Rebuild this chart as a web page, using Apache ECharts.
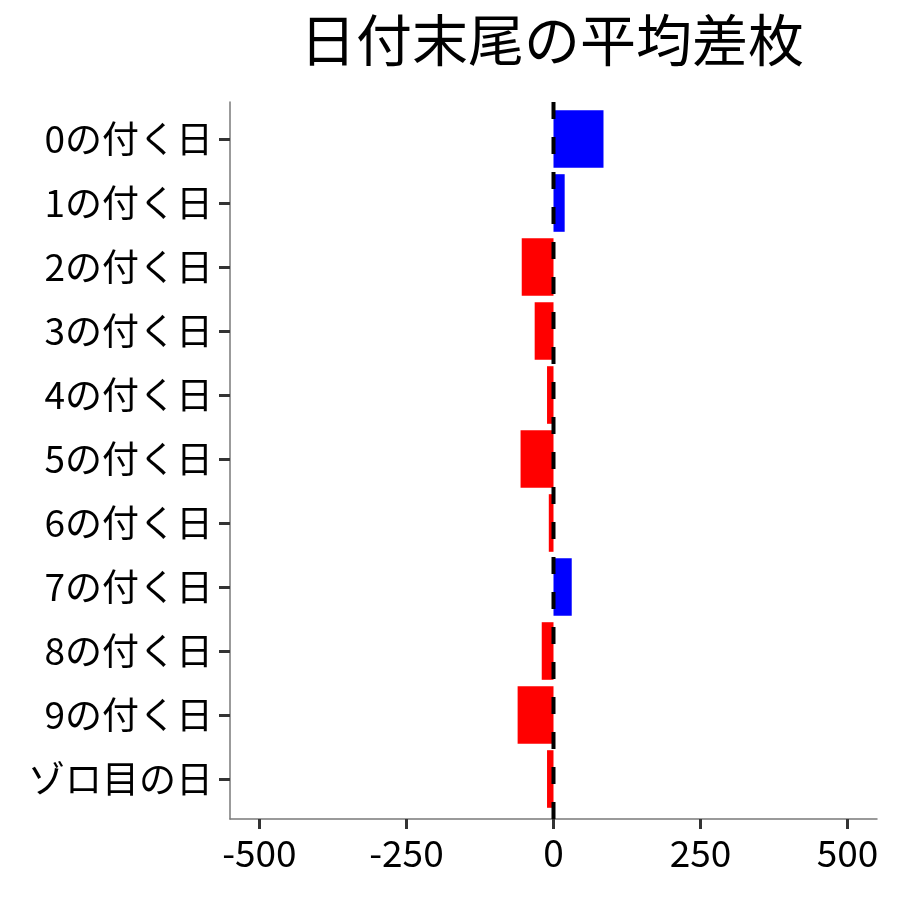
<!DOCTYPE html>
<html>
<head>
<meta charset="utf-8">
<script src="https://cdn.jsdelivr.net/npm/echarts@6/dist/echarts.min.js"></script>
<style>
  html, body { margin: 0; padding: 0; background: #fff; }
  #main { width: 900px; height: 900px; }
</style>
</head>
<body>
<div id="main"></div>
<script>
// 日付末尾ごとの平均差枚
var categories = ['0の付く日', '1の付く日', '2の付く日', '3の付く日', '4の付く日',
  '5の付く日', '6の付く日', '7の付く日', '8の付く日', '9の付く日', 'ゾロ目の日'];
var avgDiff = [85, 19, -54, -32, -11, -56, -8, 31, -20, -61, -11];
var tickValues = [-500, -250, 0, 250, 500];
var axisRange = [-550, 550];
var refLine = 0;

var font = 'Noto Sans CJK JP';
var myChart = echarts.init(document.getElementById('main'));

var option = {
  backgroundColor: '#fff',
  animation: false,
  title: {
    text: '日付末尾の平均差枚',
    left: 547,
    top: 7,
    textAlign: 'center',
    textStyle: { fontFamily: font, fontSize: 56, fontWeight: 'normal', color: '#000' }
  },
  grid: [
    // bars
    { left: 230, right: 23, top: 107, height: 704 },
    // axis frame (slightly taller, like ggplot expansion)
    { left: 230, right: 23, top: 102, bottom: 81 }
  ],
  xAxis: [
    { gridIndex: 0, type: 'value', min: axisRange[0], max: axisRange[1], show: false },
    {
      gridIndex: 1, type: 'value', min: axisRange[0], max: axisRange[1],
      axisLine: { show: true, lineStyle: { color: '#7a7a7a', width: 1.5 } },
      axisTick: { show: true, customValues: tickValues, length: 10, lineStyle: { color: '#333', width: 3 } },
      axisLabel: { customValues: tickValues, margin: 15, fontFamily: font, fontSize: 37, color: '#000' },
      splitLine: { show: false }
    }
  ],
  yAxis: [
    {
      gridIndex: 0, type: 'category', data: categories, inverse: true,
      axisLine: { show: false, onZero: false },
      axisTick: { show: true, length: 11, alignWithLabel: true, lineStyle: { color: '#333', width: 3 } },
      axisLabel: { margin: 17, fontFamily: font, fontSize: 37, color: '#000' },
      splitLine: { show: false }
    },
    {
      gridIndex: 1, type: 'value', min: 0, max: 1,
      axisLine: { show: true, onZero: false, lineStyle: { color: '#7a7a7a', width: 1.5 } },
      axisTick: { show: false },
      axisLabel: { show: false },
      splitLine: { show: false }
    }
  ],
  series: [
    {
      type: 'bar',
      xAxisIndex: 0,
      yAxisIndex: 0,
      data: avgDiff,
      barWidth: '90%',
      itemStyle: {
        color: function (p) { return p.value >= 0 ? '#0000ff' : '#ff0000'; }
      }
    },
    {
      type: 'line',
      xAxisIndex: 1,
      yAxisIndex: 1,
      z: 10,
      symbol: 'none',
      data: [[refLine, 0], [refLine, 1]],
      lineStyle: { color: '#000', width: 4, type: [17, 18] }
    }
  ]
};

myChart.setOption(option);
</script>
</body>
</html>
